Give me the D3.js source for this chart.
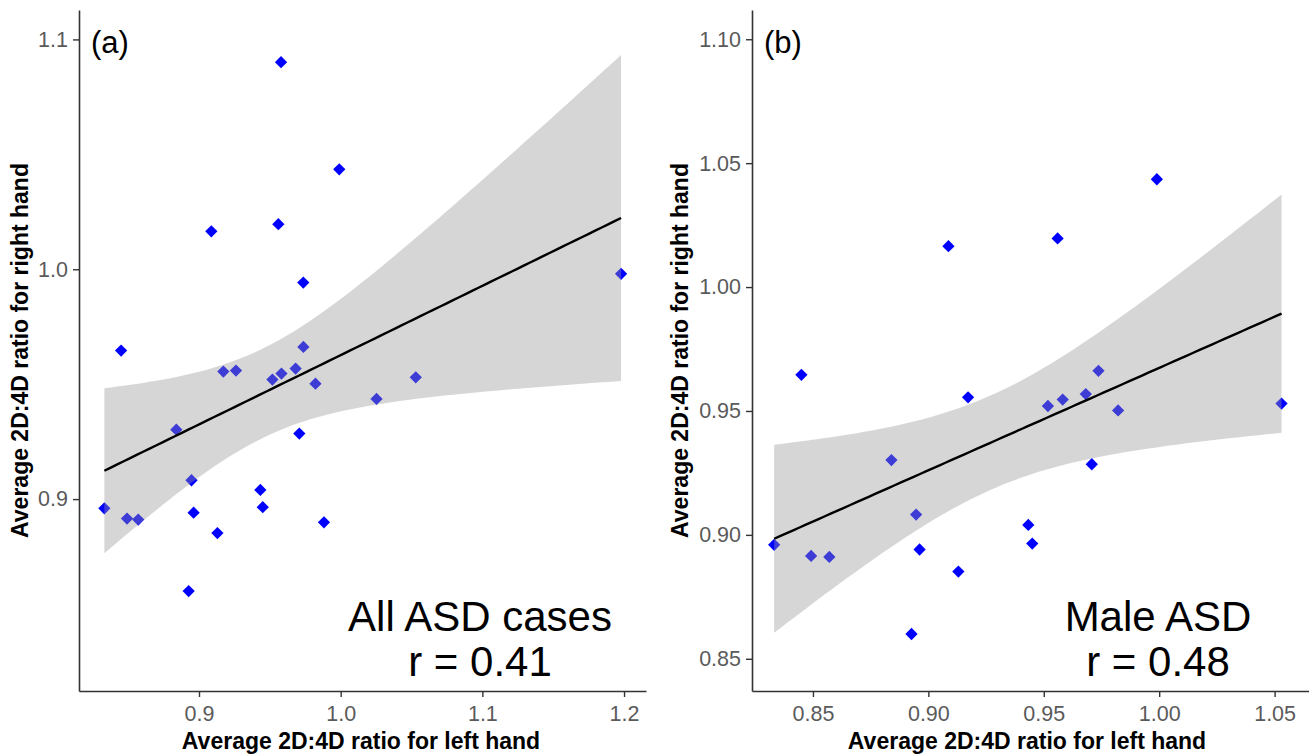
<!DOCTYPE html>
<html>
<head>
<meta charset="utf-8">
<script src="https://cdn.jsdelivr.net/npm/d3@7"></script>
<style>
  html, body { margin: 0; padding: 0; background: #fff; }
  svg { display: block; font-family: "Liberation Sans", Arial, sans-serif; }
</style>
</head>
<body>
<svg id="chart" width="1309" height="755"></svg>
<script>
// 2D:4D ratios, male cases (shown in both panels)
var maleLeft  = [0.999, 0.956, 0.9087, 0.845, 0.9737, 0.9172, 0.9518, 0.9582, 0.9682, 0.9822, 1.053,
                 0.884, 0.9708, 0.8332, 0.8492, 0.8571, 0.8947, 0.8962, 0.9433, 0.945, 0.913, 0.8927];
var maleRight = [1.0435, 1.0196, 1.0165, 0.9646, 0.9662, 0.9555, 0.952, 0.9546, 0.9568, 0.9502, 0.953,
                 0.9302, 0.9285, 0.896, 0.8915, 0.8911, 0.9082, 0.8941, 0.904, 0.8965, 0.8852, 0.86];
// female cases (only in panel a)
var femaleLeft  = [0.9579, 0.9736, 1.1979, 0.9261, 1.0253, 0.9882];
var femaleRight = [1.0901, 0.9942, 0.998, 0.9559, 0.9436, 0.8899];

// axis ticks and ranges
var ticksAx = [0.9, 1.0, 1.1, 1.2];
var ticksAy = [0.9, 1.0, 1.1];
var ticksBx = [0.85, 0.90, 0.95, 1.00, 1.05];
var ticksBy = [0.85, 0.90, 0.95, 1.00, 1.05, 1.10];
var domainAx = [0.8153, 1.2155], domainAy = [0.8165, 1.1128];
var domainBx = [0.8236, 1.0649], domainBy = [0.8370, 1.1118];

// t quantiles (0.975) for the 95% band, df = n - 2
var tAll = 2.0555, tMale = 2.0860;

var panels = [
  { label: "(a)", left: 79, right: 646, xs: maleLeft.concat(femaleLeft), ys: maleRight.concat(femaleRight),
    dx: domainAx, dy: domainAy, tx: ticksAx, ty: ticksAy, fmt: d3.format(".1f"), t: tAll,
    note: ["All ASD cases", "r = 0.41"], noteX: 480, titleX: 361, ytitleX: 28 },
  { label: "(b)", left: 752, right: 1309, xs: maleLeft, ys: maleRight,
    dx: domainBx, dy: domainBy, tx: ticksBx, ty: ticksBy, fmt: d3.format(".2f"), t: tMale,
    note: ["Male ASD", "r = 0.48"], noteX: 1158, titleX: 1027, ytitleX: 688 }
];

var plotTop = 10, plotBottom = 691;
var svg = d3.select("#chart");

//linear model fit + confidence band like geom_smooth(method = "lm")
function fitLine(xs, ys, t) {
  var n = xs.length;
  var mx = d3.mean(xs), my = d3.mean(ys);
  var sxx = d3.sum(xs, x => (x - mx) * (x - mx));
  var sxy = d3.sum(xs.map((x, i) => (x - mx) * (ys[i] - my)));
  var b = sxy / sxx, a = my - b * mx;
  var sse = d3.sum(xs.map((x, i) => Math.pow(ys[i] - (a + b * x), 2)));
  var s = Math.sqrt(sse / (n - 2));
  var lo = d3.min(xs), hi = d3.max(xs);
  var pts = d3.range(81).map(k => {
    var x = lo + (hi - lo) * k / 80;
    var fit = a + b * x;
    var se = s * Math.sqrt(1 / n + (x - mx) * (x - mx) / sxx);
    return { x: x, y: fit, y0: fit - t * se, y1: fit + t * se };
  });
  return pts;
}

panels.forEach(p => {
  var x = d3.scaleLinear().domain(p.dx).range([p.left, p.right]);
  var y = d3.scaleLinear().domain(p.dy).range([plotBottom, plotTop]);
  var g = svg.append("g");

  // points first, ribbon goes over them (as in ggplot)
  var data = p.xs.map((v, i) => ({ x: v, y: p.ys[i] }));
  g.selectAll("path.pt")
    .data(data)
    .enter().append("path")
    .attr("class", "pt")
    .attr("transform", d => `translate(${x(d.x)},${y(d.y)})`)
    .attr("d", d3.symbol(d3.symbolDiamond2, 96))
    .attr("fill", "#0000ff");

  var fit = fitLine(p.xs, p.ys, p.t);
  g.append("path")
    .datum(fit)
    .attr("fill", "#999999")
    .attr("fill-opacity", 0.4)
    .attr("d", d3.area().x(d => x(d.x)).y0(d => y(d.y0)).y1(d => y(d.y1)));
  g.append("path")
    .datum(fit)
    .attr("fill", "none")
    .attr("stroke", "#000")
    .attr("stroke-width", 2.4)
    .attr("d", d3.line().x(d => x(d.x)).y(d => y(d.y)));

  /** axes */
  var xAxis = g.append("g")
    .attr("transform", `translate(0,${plotBottom})`)
    .call(d3.axisBottom(x).tickValues(p.tx).tickFormat(p.fmt).tickSize(6).tickPadding(8).tickSizeOuter(0));
  var yAxis = g.append("g")
    .attr("transform", `translate(${p.left},0)`)
    .call(d3.axisLeft(y).tickValues(p.ty).tickFormat(p.fmt).tickSize(6).tickPadding(5).tickSizeOuter(0));
  [xAxis, yAxis].forEach(ax => {
    ax.select(".domain").attr("stroke", "#333").attr("stroke-width", 1.6);
    ax.selectAll(".tick line").attr("stroke", "#333").attr("stroke-width", 1.4);
    ax.selectAll(".tick text").attr("fill", "#5a5a5a").style("font-size", "21.5px")
      .style("font-family", "'Liberation Sans', Arial, sans-serif");
  });
  xAxis.selectAll(".tick text").attr("dy", null).attr("y", 30);

  // axis titles
  svg.append("text")
    .attr("x", p.titleX).attr("y", 749)
    .attr("text-anchor", "middle")
    .style("font-size", "23px").style("font-weight", "bold")
    .text("Average 2D:4D ratio for left hand");
  svg.append("text")
    .attr("transform", `translate(${p.ytitleX},${(plotTop + plotBottom) / 2}) rotate(-90)`)
    .attr("text-anchor", "middle")
    .style("font-size", "23px").style("font-weight", "bold")
    .text("Average 2D:4D ratio for right hand");

  // panel tag and annotation
  svg.append("text")
    .attr("x", p.left + 12).attr("y", 53)
    .style("font-size", "31px")
    .text(p.label);
  svg.append("text")
    .attr("x", p.noteX).attr("y", 631)
    .attr("text-anchor", "middle")
    .style("font-size", "42px")
    .text(p.note[0]);
  svg.append("text")
    .attr("x", p.noteX).attr("y", 676)
    .attr("text-anchor", "middle")
    .style("font-size", "42px")
    .text(p.note[1]);
});
</script>
</body>
</html>
